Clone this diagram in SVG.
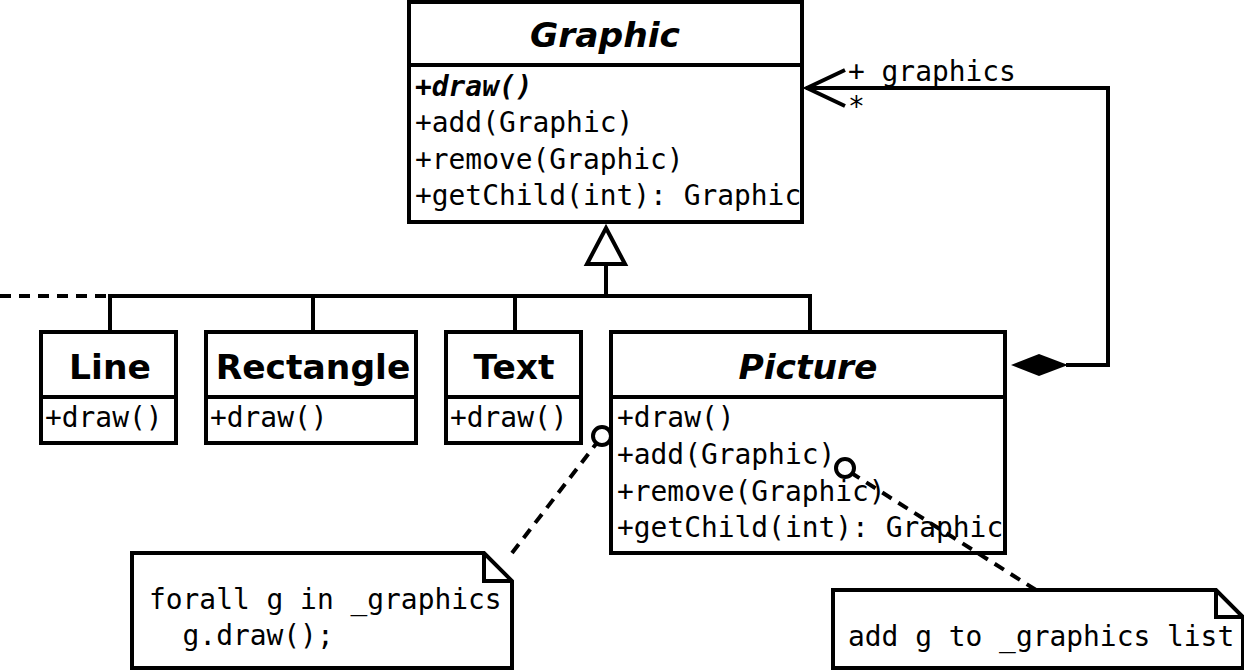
<svg xmlns="http://www.w3.org/2000/svg" width="1244" height="671" viewBox="0 0 1244 671">
<style>
.box{fill:#fff;stroke:#000;stroke-width:4}
.ln{fill:none;stroke:#000;stroke-width:4}
.dash{fill:none;stroke:#000;stroke-width:4;stroke-dasharray:11,8}
.title{font-family:"DejaVu Sans",sans-serif;font-weight:bold;font-size:34.5px;text-anchor:middle}
.it{font-style:italic}
.m{font-family:"DejaVu Sans Mono",monospace;font-size:27.9px}
</style>
<rect width="1244" height="671" fill="#fff"/>
<g id="Graphic">
<rect class="box" x="409" y="2" width="393" height="220"/>
<line class="ln" x1="409" y1="65" x2="802" y2="65"/>
<text class="title it" x="605" y="47">Graphic</text>
<text class="m" x="415" y="96" font-weight="bold" font-style="italic">+draw()</text>
<text class="m" x="415" y="132">+add(Graphic)</text>
<text class="m" x="415" y="169">+remove(Graphic)</text>
<text class="m" x="415" y="205">+getChild(int): Graphic</text>
</g>
<g id="Line">
<rect class="box" x="41" y="332" width="135" height="111"/>
<line class="ln" x1="41" y1="397" x2="176" y2="397"/>
<text class="title" x="110" y="379">Line</text>
<text class="m" x="45" y="427">+draw()</text>
</g>
<g id="Rectangle">
<rect class="box" x="206" y="332" width="210" height="111"/>
<line class="ln" x1="206" y1="397" x2="416" y2="397"/>
<text class="title" x="313" y="379">Rectangle</text>
<text class="m" x="210" y="427">+draw()</text>
</g>
<g id="Text">
<rect class="box" x="446" y="332" width="135" height="111"/>
<line class="ln" x1="446" y1="397" x2="581" y2="397"/>
<text class="title" x="514" y="379">Text</text>
<text class="m" x="450" y="427">+draw()</text>
</g>
<g id="Picture">
<rect class="box" x="611" y="332" width="394" height="221"/>
<line class="ln" x1="611" y1="397" x2="1005" y2="397"/>
<text class="title it" x="808" y="379">Picture</text>
<text class="m" x="617" y="427">+draw()</text>
<text class="m" x="617" y="464">+add(Graphic)</text>
<text class="m" x="617" y="501">+remove(Graphic)</text>
<text class="m" x="617" y="537">+getChild(int): Graphic</text>
</g>
<g id="note1">
<path class="box" d="M132,553 H484 L512,581 V668 H132 Z"/>
<polyline class="ln" stroke-width="2" points="484,553 484,581 512,581"/>
<text class="m" x="149" y="609">forall g in _graphics</text>
<text class="m" x="149" y="645" xml:space="preserve">  g.draw();</text>
</g>
<g id="note2">
<path class="box" d="M833,590 H1216 L1243,617 V668 H833 Z"/>
<polyline class="ln" stroke-width="2" points="1216,590 1216,617 1243,617"/>
<text class="m" x="848" y="646">add g to _graphics list</text>
</g>
<g id="connectors">
<line class="dash" x1="0" y1="296" x2="110" y2="296"/>
<polyline class="ln" points="110,332 110,296 810,296 810,332"/>
<line class="ln" x1="313" y1="296" x2="313" y2="332"/>
<line class="ln" x1="515" y1="296" x2="515" y2="332"/>
<line class="ln" x1="606" y1="296" x2="606" y2="264"/>
<polygon class="box" points="606,228 625,264 587,264"/>
<polyline class="ln" points="1066,365 1108,365 1108,88 806,88"/>
<polyline class="ln" points="845,70 807,88 845,106"/>
<polygon points="1011,365 1039,354 1068,365 1039,376" fill="#000"/>
<text class="m" x="848" y="81">+ graphics</text>
<text class="m" x="848" y="116">*</text>
<line class="dash" x1="512" y1="553" x2="596" y2="444"/>
<line class="dash" x1="1036" y1="590" x2="853" y2="474"/>
<circle class="box" cx="602" cy="436" r="9"/>
<circle class="box" cx="845" cy="468" r="9"/>
</g>
</svg>
